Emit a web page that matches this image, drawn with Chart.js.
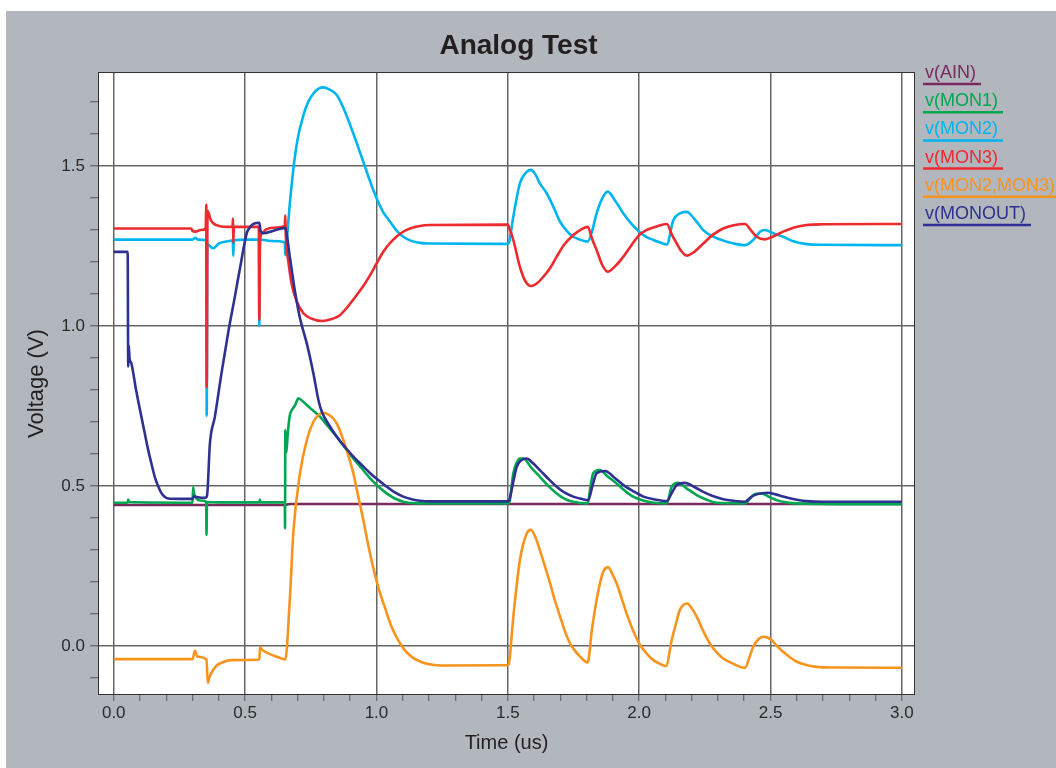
<!DOCTYPE html>
<html><head><meta charset="utf-8">
<script src="https://cdn.jsdelivr.net/npm/chart.js@4.4.0/dist/chart.umd.min.js"></script>
<style>html,body{margin:0;padding:0;background:#fff;overflow:hidden}</style>
</head><body>
<canvas id="c" width="1056" height="768" style="width:1056px;height:768px;display:block"></canvas>
<script>
const seriesNames = ['v(AIN)','v(MON1)','v(MON2)','v(MON3)','v(MON2,MON3)','v(MONOUT)'];
const seriesColors = ['#7b2a5f','#00a651','#00b5ef','#ed2a2e','#f7941e','#2e3192'];

const ain = [[0,0.441],[0.65,0.441],[0.67,0.444],[3.0,0.444]];

const mon1 = [[0,0.448],[0.053,0.448],[0.055,0.458],[0.058,0.450],[0.300,0.448],[0.302,0.496],[0.305,0.480],[0.310,0.467],[0.330,0.455],[0.352,0.451],[0.353,0.347],[0.355,0.450],[0.400,0.449],[0.555,0.449],[0.556,0.458],[0.558,0.449],[0.651,0.449],[0.652,0.368],[0.653,0.675],[0.657,0.605],[0.662,0.660],[0.670,0.720],[0.678,0.738],[0.690,0.752],[0.703,0.774],[0.722,0.763],[0.750,0.742],[0.785,0.717],[0.815,0.687],[0.849,0.654],[0.880,0.620],[0.912,0.586],[0.945,0.554],[0.976,0.524],[1.008,0.498],[1.039,0.477],[1.070,0.461],[1.102,0.451],[1.166,0.446],[1.500,0.446],[1.505,0.448],[1.521,0.540],[1.535,0.575],[1.546,0.586],[1.559,0.586],[1.590,0.557],[1.622,0.529],[1.655,0.500],[1.686,0.477],[1.715,0.461],[1.749,0.451],[1.804,0.446],[1.815,0.500],[1.825,0.540],[1.850,0.550],[1.880,0.530],[1.914,0.508],[1.945,0.486],[1.977,0.467],[2.015,0.455],[2.054,0.448],[2.105,0.446],[2.124,0.498],[2.149,0.510],[2.180,0.493],[2.219,0.472],[2.255,0.458],[2.295,0.448],[2.403,0.446],[2.434,0.472],[2.466,0.477],[2.495,0.466],[2.523,0.456],[2.560,0.449],[2.600,0.446],[3.000,0.443]];

const mon2 = [[0,1.270],[0.300,1.270],[0.310,1.276],[0.320,1.270],[0.352,1.268],[0.354,0.720],[0.356,1.258],[0.366,1.250],[0.378,1.243],[0.400,1.258],[0.440,1.266],[0.453,1.268],[0.455,1.220],[0.457,1.268],[0.500,1.270],[0.553,1.270],[0.554,1.000],[0.556,1.270],[0.600,1.266],[0.651,1.262],[0.653,1.222],[0.655,1.250],[0.659,1.274],[0.670,1.380],[0.684,1.493],[0.700,1.585],[0.722,1.659],[0.740,1.700],[0.760,1.727],[0.780,1.742],[0.798,1.746],[0.820,1.740],[0.849,1.722],[0.875,1.680],[0.900,1.628],[0.925,1.572],[0.950,1.513],[0.975,1.454],[1.000,1.400],[1.025,1.357],[1.052,1.326],[1.075,1.300],[1.102,1.279],[1.130,1.267],[1.166,1.260],[1.200,1.258],[1.500,1.257],[1.505,1.262],[1.521,1.342],[1.546,1.446],[1.572,1.482],[1.588,1.488],[1.605,1.474],[1.622,1.446],[1.648,1.415],[1.675,1.370],[1.699,1.326],[1.725,1.297],[1.749,1.279],[1.775,1.270],[1.804,1.264],[1.822,1.300],[1.838,1.352],[1.860,1.400],[1.880,1.420],[1.910,1.390],[1.940,1.352],[1.970,1.320],[2.000,1.295],[2.027,1.279],[2.054,1.269],[2.080,1.261],[2.105,1.255],[2.130,1.331],[2.155,1.352],[2.181,1.357],[2.210,1.335],[2.244,1.300],[2.280,1.280],[2.320,1.267],[2.360,1.258],[2.403,1.253],[2.434,1.269],[2.460,1.295],[2.479,1.300],[2.510,1.290],[2.548,1.279],[2.590,1.264],[2.637,1.256],[2.700,1.254],[3.000,1.253]];

const mon3 = [[0,1.305],[0.295,1.305],[0.300,1.297],[0.312,1.295],[0.330,1.300],[0.350,1.305],[0.352,1.380],[0.354,0.810],[0.357,1.360],[0.370,1.330],[0.400,1.313],[0.452,1.310],[0.454,1.336],[0.455,1.260],[0.457,1.310],[0.552,1.310],[0.554,1.020],[0.557,1.270],[0.565,1.290],[0.580,1.302],[0.620,1.308],[0.651,1.312],[0.653,1.346],[0.655,1.280],[0.665,1.200],[0.678,1.128],[0.697,1.076],[0.722,1.040],[0.750,1.024],[0.792,1.016],[0.830,1.022],[0.861,1.034],[0.890,1.060],[0.925,1.097],[0.950,1.125],[0.976,1.159],[1.000,1.195],[1.026,1.232],[1.050,1.258],[1.077,1.280],[1.100,1.294],[1.128,1.305],[1.160,1.312],[1.204,1.316],[1.500,1.317],[1.503,1.312],[1.521,1.269],[1.546,1.185],[1.567,1.140],[1.588,1.125],[1.610,1.133],[1.635,1.154],[1.660,1.180],[1.686,1.217],[1.715,1.255],[1.749,1.284],[1.780,1.302],[1.804,1.310],[1.822,1.270],[1.838,1.238],[1.860,1.190],[1.880,1.170],[1.910,1.188],[1.940,1.217],[1.970,1.252],[2.000,1.284],[2.027,1.300],[2.054,1.308],[2.080,1.315],[2.105,1.319],[2.125,1.285],[2.143,1.258],[2.160,1.235],[2.181,1.220],[2.210,1.232],[2.244,1.258],[2.280,1.285],[2.320,1.305],[2.360,1.315],[2.403,1.319],[2.425,1.300],[2.447,1.279],[2.479,1.271],[2.510,1.280],[2.548,1.295],[2.590,1.308],[2.637,1.316],[2.700,1.318],[3.000,1.319]];

const mon23 = [[0,-0.041],[0.300,-0.041],[0.309,-0.015],[0.318,-0.033],[0.353,-0.042],[0.358,-0.115],[0.364,-0.098],[0.378,-0.075],[0.393,-0.060],[0.410,-0.052],[0.448,-0.044],[0.554,-0.042],[0.557,-0.004],[0.565,-0.012],[0.588,-0.023],[0.626,-0.035],[0.653,-0.042],[0.670,0.144],[0.684,0.360],[0.709,0.540],[0.735,0.644],[0.760,0.701],[0.780,0.722],[0.798,0.729],[0.816,0.724],[0.836,0.711],[0.855,0.685],[0.874,0.644],[0.893,0.595],[0.912,0.540],[0.930,0.470],[0.950,0.394],[0.970,0.310],[0.993,0.227],[1.012,0.170],[1.031,0.123],[1.055,0.065],[1.082,0.019],[1.107,-0.012],[1.133,-0.033],[1.160,-0.046],[1.184,-0.054],[1.220,-0.059],[1.272,-0.061],[1.500,-0.060],[1.503,-0.058],[1.521,0.092],[1.546,0.269],[1.572,0.352],[1.588,0.363],[1.605,0.340],[1.622,0.300],[1.641,0.250],[1.661,0.196],[1.680,0.140],[1.699,0.092],[1.718,0.045],[1.737,0.008],[1.756,-0.015],[1.775,-0.033],[1.804,-0.051],[1.820,0.050],[1.838,0.144],[1.863,0.232],[1.882,0.246],[1.898,0.225],[1.914,0.196],[1.933,0.150],[1.952,0.102],[1.976,0.050],[2.000,0.008],[2.027,-0.022],[2.054,-0.044],[2.080,-0.056],[2.102,-0.063],[2.124,0.019],[2.140,0.070],[2.155,0.113],[2.183,0.133],[2.200,0.118],[2.219,0.092],[2.245,0.045],[2.269,0.008],[2.295,-0.020],[2.320,-0.039],[2.360,-0.056],[2.403,-0.068],[2.420,-0.035],[2.434,-0.002],[2.455,0.022],[2.472,0.029],[2.490,0.026],[2.504,0.019],[2.525,0.000],[2.548,-0.018],[2.575,-0.036],[2.600,-0.049],[2.640,-0.060],[2.675,-0.065],[2.750,-0.067],[3.000,-0.068]];

const monout = [[0,1.232],[0.053,1.232],[0.055,0.873],[0.057,0.940],[0.060,0.900],[0.067,0.883],[0.085,0.800],[0.105,0.717],[0.118,0.665],[0.131,0.613],[0.144,0.568],[0.156,0.529],[0.170,0.498],[0.182,0.477],[0.195,0.466],[0.207,0.461],[0.250,0.460],[0.300,0.460],[0.305,0.468],[0.315,0.466],[0.347,0.463],[0.355,0.470],[0.366,0.633],[0.385,0.717],[0.410,0.852],[0.435,0.977],[0.461,1.092],[0.486,1.206],[0.506,1.290],[0.520,1.310],[0.532,1.319],[0.554,1.323],[0.558,1.300],[0.570,1.290],[0.608,1.298],[0.652,1.307],[0.671,1.211],[0.690,1.107],[0.709,1.024],[0.735,0.945],[0.760,0.852],[0.779,0.769],[0.792,0.732],[0.820,0.690],[0.849,0.654],[0.880,0.622],[0.912,0.592],[0.945,0.565],[0.976,0.540],[1.008,0.518],[1.039,0.498],[1.070,0.480],[1.102,0.467],[1.134,0.459],[1.166,0.454],[1.200,0.452],[1.500,0.452],[1.505,0.455],[1.520,0.510],[1.534,0.560],[1.550,0.580],[1.572,0.586],[1.595,0.572],[1.622,0.550],[1.655,0.522],[1.686,0.498],[1.715,0.480],[1.749,0.467],[1.780,0.460],[1.806,0.456],[1.822,0.500],[1.838,0.540],[1.870,0.547],[1.905,0.527],[1.940,0.503],[1.975,0.485],[2.016,0.467],[2.060,0.458],[2.105,0.453],[2.125,0.480],[2.143,0.503],[2.174,0.510],[2.210,0.497],[2.244,0.482],[2.280,0.469],[2.320,0.459],[2.360,0.454],[2.403,0.451],[2.425,0.465],[2.447,0.474],[2.491,0.479],[2.520,0.474],[2.548,0.467],[2.590,0.459],[2.637,0.453],[2.700,0.451],[3.000,0.451]];

const allSeries = [ain, mon1, mon2, mon3, mon23, monout];
const drawOrder = [6, 5, 4, 3, 2, 1];
const xTickValues = [0.0,0.1,0.2,0.3,0.4,0.5,0.6,0.7,0.8,0.9,1.0,1.1,1.2,1.3,1.4,1.5,1.6,1.7,1.8,1.9,2.0,2.1,2.2,2.3,2.4,2.5,2.6,2.7,2.8,2.9,3.0];
const yTickValues = [-0.1,0.0,0.1,0.2,0.3,0.4,0.5,0.6,0.7,0.8,0.9,1.0,1.1,1.2,1.3,1.4,1.5,1.6,1.7];

const FONT = '"Liberation Sans", Arial, Helvetica, sans-serif';
const isMajor = v => Math.abs(v * 2 - Math.round(v * 2)) < 1e-6;

const bgPlugin = {
  id: 'bg',
  beforeDraw(chart) {
    const {ctx, width, height, chartArea: a} = chart;
    ctx.save();
    ctx.fillStyle = '#ffffff'; ctx.fillRect(0, 0, width, height);
    ctx.fillStyle = '#b2b6bd'; ctx.fillRect(6, 11, width - 6, height - 11);
    ctx.fillStyle = '#ffffff'; ctx.fillRect(a.left, a.top, a.right - a.left, a.bottom - a.top);
    ctx.restore();
  },
  afterLayout(chart) {
    if (chart.titleBlock) { chart.titleBlock.left = 122; chart.titleBlock.right = 915; }
  },
  afterDatasetsDraw(chart) {
    const {ctx, chartArea: a} = chart;
    ctx.save();
    ctx.strokeStyle = '#333'; ctx.lineWidth = 1;
    ctx.strokeRect(a.left + 0.5, a.top + 0.5, a.right - a.left - 1, a.bottom - a.top - 1);
    ctx.restore();
  },
  afterDraw(chart) {
    const ctx = chart.ctx;
    ctx.save();
    ctx.font = '18px ' + FONT;
    ctx.textBaseline = 'middle'; ctx.textAlign = 'left';
    chart.data.datasets.forEach((ds, i) => {
      const uy = 84 + i * 28.2;
      ctx.fillStyle = ds.borderColor;
      ctx.fillText(ds.label, 925, uy - 11);
      const w = ctx.measureText(ds.label).width;
      ctx.strokeStyle = ds.borderColor; ctx.lineWidth = 2.5;
      ctx.beginPath(); ctx.moveTo(923, uy); ctx.lineTo(Math.min(925 + w + 5, 1056), uy); ctx.stroke();
    });
    ctx.restore();
  }
};

new Chart(document.getElementById('c'), {
  type: 'scatter',
  data: {
    datasets: allSeries.map((s, i) => ({
      label: seriesNames[i],
      data: s.map(p => ({x: p[0], y: p[1]})),
      borderColor: seriesColors[i],
      backgroundColor: seriesColors[i],
      showLine: true,
      pointRadius: 0,
      pointHoverRadius: 0,
      borderWidth: 2.6,
      cubicInterpolationMode: 'monotone',
      order: drawOrder[i]
    }))
  },
  options: {
    responsive: false,
    animation: false,
    events: [],
    layout: {padding: {left: 6, top: 11, right: 141, bottom: 0}},
    plugins: {
      legend: {display: false},
      tooltip: {enabled: false},
      title: {display: true, text: 'Analog Test', color: '#231f20',
        font: {family: FONT, size: 28, weight: 'bold'}, padding: {top: 18, bottom: 9.4}}
    },
    scales: {
      x: {
        type: 'linear', min: -0.06, max: 3.05,
        afterBuildTicks: s => { s.ticks = xTickValues.map(v => ({value: v})); },
        afterFit: s => { s.height = 73; },
        ticks: {autoSkip: false, maxRotation: 0, includeBounds: false, padding: 2, color: '#2a2a2a',
          font: {family: FONT, size: 17},
          callback: v => isMajor(v) ? v.toFixed(1) : ''},
        grid: {color: c => (c.tick && isMajor(c.tick.value)) ? '#666' : 'rgba(0,0,0,0)', lineWidth: 1.5,
          tickColor: '#555', tickLength: 6, tickWidth: 1},
        border: {display: false},
        title: {display: true, text: 'Time (us)', color: '#231f20', font: {family: FONT, size: 20}, padding: {top: 0, bottom: 13}}
      },
      y: {
        type: 'linear', min: -0.153, max: 1.794,
        afterBuildTicks: s => { s.ticks = yTickValues.map(v => ({value: v})); },
        afterFit: s => { s.width = 92; },
        ticks: {autoSkip: false, includeBounds: false, padding: 5, color: '#2a2a2a',
          font: {family: FONT, size: 17},
          callback: v => isMajor(v) ? v.toFixed(1) : ''},
        grid: {color: c => (c.tick && isMajor(c.tick.value)) ? '#666' : 'rgba(0,0,0,0)', lineWidth: 1.5,
          tickColor: '#555', tickLength: 8, tickWidth: 1},
        border: {display: false},
        title: {display: true, text: 'Voltage (V)', color: '#231f20', font: {family: FONT, size: 22}, padding: {top: 18, bottom: 0}}
      }
    }
  },
  plugins: [bgPlugin]
});
</script>
</body></html>
